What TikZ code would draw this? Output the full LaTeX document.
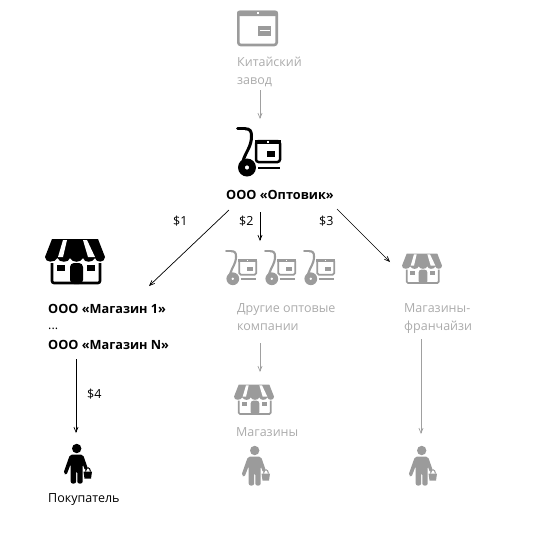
\documentclass[tikz,border=0pt]{standalone}
\usepackage{fontspec}
\setmainfont{Open Sans}
\definecolor{gtxt}{HTML}{ABABAB}
\definecolor{gico}{HTML}{9B9B9B}
\definecolor{garr}{HTML}{A0A0A0}
\usetikzlibrary{arrows.meta}
\def\icS{1}
\tikzset{
 lab/.style={anchor=base west,inner sep=0pt,font=\fontsize{12.5}{15}\selectfont},
 glab/.style={lab,text=gtxt},
 blab/.style={lab,font=\fontsize{12.7}{15}\selectfont\bfseries},
 conn/.style={-{Straight Barb[length=5pt,width=7pt,angle'=45]},line width=.7pt},
 gconn/.style={conn,draw=garr},
 pics/factory/.style={code={
  \draw[#1,line width=2.6pt,rounded corners=2.5pt,fill=none] (1.3,1.8) rectangle (39.7,35);
  \fill[#1,rounded corners=2.5pt] (0,6) -- (0,0.5) -- (41,0.5) -- (41,6) -- cycle;
  \fill[white] (19.5,2.2) rectangle (21.5,3.8);
  \fill[#1] (21,16) rectangle (34,26);
  \draw[white,line width=.6pt] (22.5,20.5) -- (32.5,20.5);
 }},
 pics/cart/.style={code={
  \draw[#1,line width=3.4pt*\icS,line cap=round] (1.7,1.7) -- (9,1.7);
  \draw[#1,line width=3pt*\icS] (9,1.7) .. controls (14,1.7) and (15.5,4) .. (15.5,9) .. controls (15.5,20) and (10,24) .. (7,34);
  \draw[#1,line width=2.5pt*\icS,rounded corners=2.5pt*\icS,fill=white] (20,14) rectangle (44,35);
  \fill[#1] (19,13) -- (45,13) -- (45,17) -- (19,17) -- cycle;
  \fill[white] (31,14) rectangle (33,15.5);
  \fill[#1] (31,24) rectangle (39,30);
  \draw[#1,line width=2.2pt*\icS] (22,41) -- (44,41);
  \fill[#1,even odd rule] (11,40.5) circle (9) (11,40.5) circle (2.2);
 }},
 pics/shop/.style={code={
  \fill[#1] (7,1) -- (53,1) -- (60,19) .. controls (60,25) and (51,25) .. (50,20) .. controls (48,25) and (39,25) .. (38,20) .. controls (36,25) and (27,25) .. (25,20) .. controls (24,25) and (14,25) .. (12.5,20) .. controls (10,25) and (0,25) .. (0,19) -- cycle;
  \fill[white] (18,2) -- (22,2) -- (18,19) -- (13,19) -- cycle;
  \fill[white] (38,2) -- (42,2) -- (50,19) -- (43,19) -- cycle;
  \draw[#1,line width=2.6pt*\icS,rounded corners=2pt*\icS] (7,25) -- (7,45) -- (55,45) -- (55,25);
  \fill[#1] (12,27) rectangle (20,33);
  \fill[#1] (42,27) rectangle (50,33);
  \fill[#1,rounded corners=4pt*\icS] (25,46) -- (25,25) -- (38,25) -- (38,46) -- cycle;
 }},
 pics/person/.style={code={
  \fill[#1] (13.7,4.5) circle (4.7);
  \fill[#1,rounded corners=2pt] (7,10.5) -- (20,10.5) -- (25,25) -- (22,26.5) -- (19.7,20) -- (19.7,39.5) -- (14.3,39.5) -- (14.3,27) -- (13.1,27) -- (13.1,39.5) -- (7.7,39.5) -- (7.7,20) -- (3.5,31) -- (0.3,29.5) -- cycle;
  \fill[#1] (20.5,27.5) -- (29,27.5) -- (28,34.5) -- (21.5,34.5) -- cycle;
  \draw[#1,line width=1pt] (22.5,27.5) .. controls (23,22.5) and (27,22.5) .. (27.5,27.5);
 }},
}
\begin{document}
\begin{tikzpicture}[x=1pt,y=-1pt]
\useasboundingbox (0,0) rectangle (550,550);
% icons
\pic at (237,10) {factory=gico};
\pic at (236,127) {cart=black};
\pic at (45,238) {shop=black};
\def\icS{.71}
\begin{scope}[shift={(225,250)},scale=.71,transform shape]\pic {cart=gico};\end{scope}
\begin{scope}[shift={(264,250)},scale=.71,transform shape]\pic {cart=gico};\end{scope}
\begin{scope}[shift={(303,250)},scale=.71,transform shape]\pic {cart=gico};\end{scope}
\def\icS{.667}
\begin{scope}[shift={(402,253)},scale=.667,transform shape]\pic {shop=gico};\end{scope}
\begin{scope}[shift={(234,384)},scale=.667,transform shape]\pic {shop=gico};\end{scope}
\pic at (63,444) {person=black};
\pic at (241,446) {person=gico};
\pic at (408,446) {person=gico};
% labels
\node[glab] (zavod1) at (237,66) {Китайский};
\node[glab] (zavod2) at (237,84) {завод};
\node[blab] (opt) at (226,199) {ООО «Оптовик»};
\node[lab] (p1) at (173,225) {\$1};
\node[lab] (p2) at (239,225) {\$2};
\node[lab] (p3) at (319,225) {\$3};
\node[blab] (m1) at (48,313) {ООО «Магазин 1»};
\node[lab] (dots) at (48,329) {...};
\node[blab] (mn) at (48,349) {ООО «Магазин N»};
\node[lab] (p4) at (87,398) {\$4};
\node[glab] (dr1) at (237,312) {Другие оптовые};
\node[glab] (dr2) at (237,330) {компании};
\node[glab] (fr1) at (404,312) {Магазины-};
\node[glab] (fr2) at (404,330) {франчайзи};
\node[glab] (sh) at (236,436) {Магазины};
\node[lab] (buy) at (48,502) {Покупатель};
% connector ends
\coordinate (a1) at (260,90); \coordinate (b1) at (260,119);
\coordinate (a2) at (229,210); \coordinate (b2) at (149,286);
\coordinate (a3) at (260,212); \coordinate (b3) at (260,241);
\coordinate (a4) at (337,209); \coordinate (b4) at (390,262);
\coordinate (a5) at (260,343); \coordinate (b5) at (260,372);
\coordinate (a6) at (421,339); \coordinate (b6) at (421,434);
\coordinate (a7) at (76,359); \coordinate (b7) at (76,433);
\draw[gconn] (a1) -- (b1);
\draw[conn] (a2) -- (b2);
\draw[conn] (a3) -- (b3);
\draw[conn] (a4) -- (b4);
\draw[gconn] (a5) -- (b5);
\draw[gconn] (a6) -- (b6);
\draw[conn] (a7) -- (b7);
\end{tikzpicture}
\end{document}
